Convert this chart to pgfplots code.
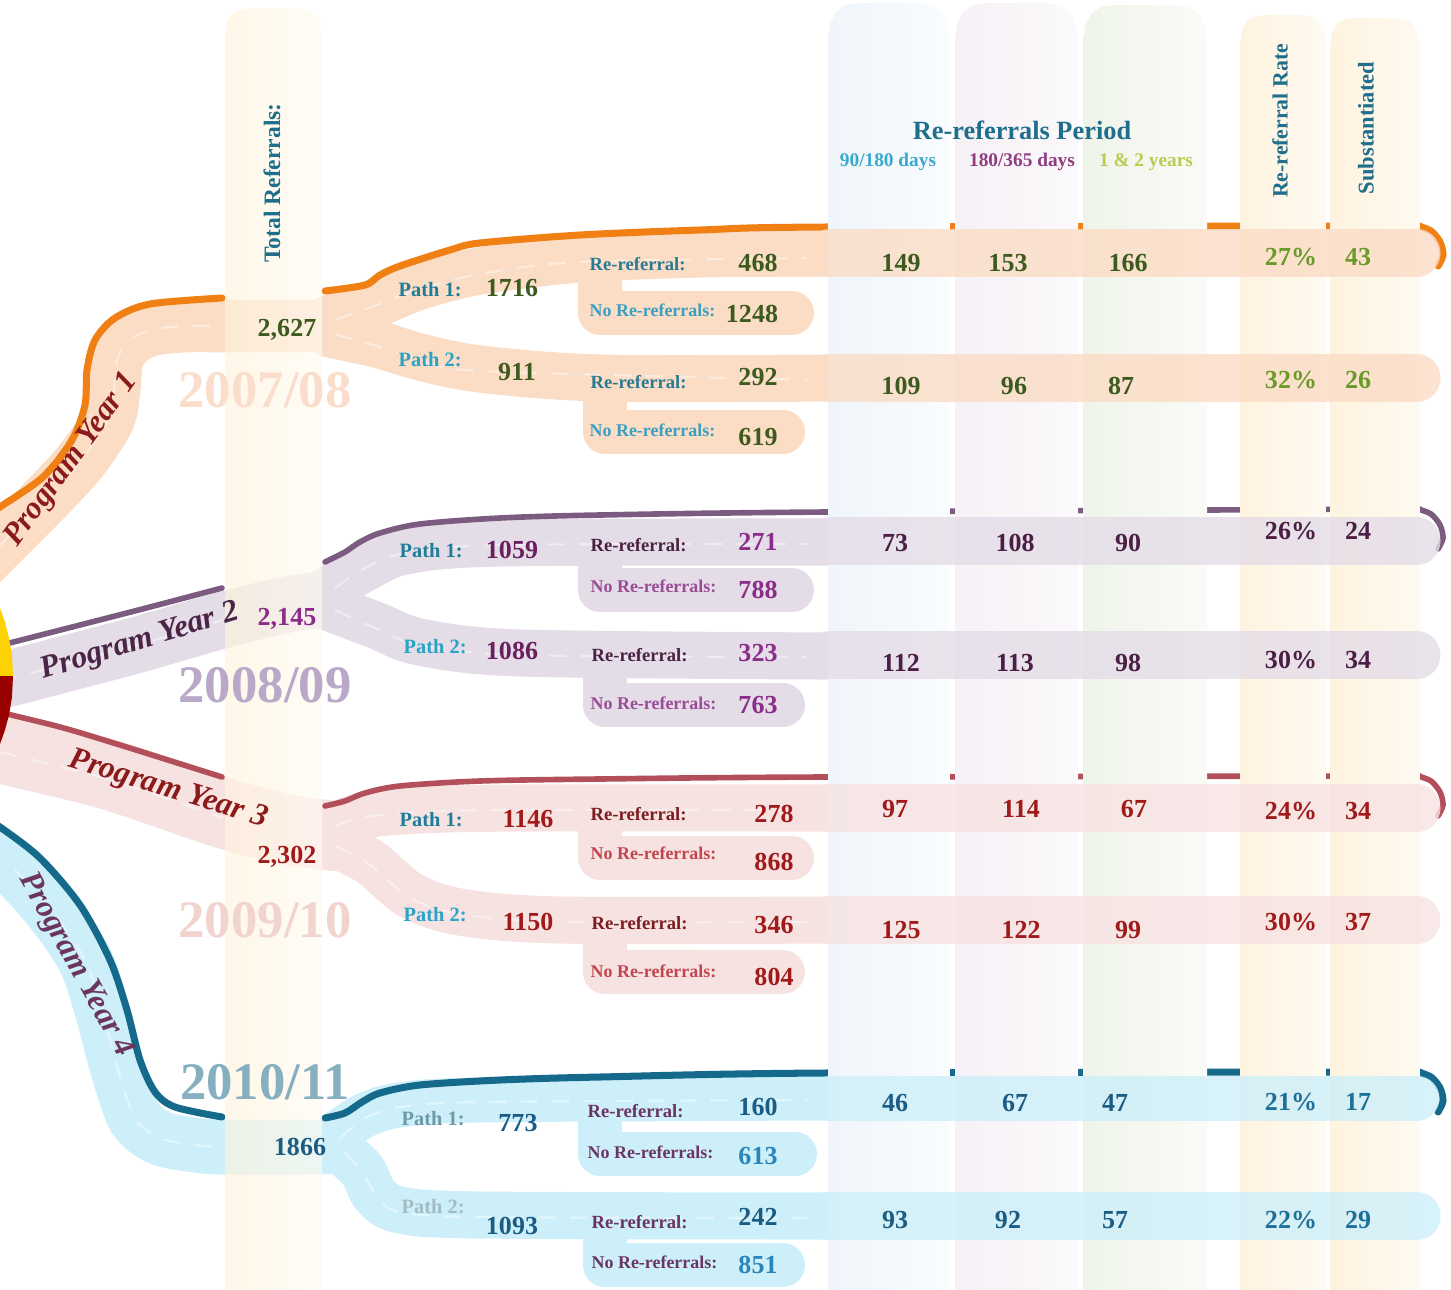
\documentclass[border=0pt]{standalone}
\usepackage{pgfplots}
\pgfplotsset{compat=1.18}
\usepackage{fontspec}
\setmainfont{Liberation Serif}

% year colours: edge line, band, values
\definecolor{oEdge}{HTML}{F07F14}
\definecolor{oBand}{HTML}{FBDCC5}
\definecolor{pEdge}{HTML}{7B5B7F}
\definecolor{pBand}{HTML}{E4DCE7}
\definecolor{rEdge}{HTML}{B24F5A}
\definecolor{rBand}{HTML}{F7E2E2}
\definecolor{bEdge}{HTML}{15698A}
\definecolor{bBand}{HTML}{CDEFF9}
\definecolor{hdr}{HTML}{1F6E8C}
\definecolor{c90}{HTML}{3BA9CC}
\definecolor{c180}{HTML}{8E3E80}
\definecolor{c12}{HTML}{B8CC50}
\definecolor{v1}{HTML}{3E5B1F}
\definecolor{g1}{HTML}{6A9A2A}
\definecolor{v2a}{HTML}{6A1F5E}
\definecolor{v2b}{HTML}{8C2D8C}
\definecolor{v2c}{HTML}{4B1F45}
\definecolor{v3}{HTML}{A11A1A}
\definecolor{v4}{HTML}{1B5C85}
\definecolor{v4b}{HTML}{2A86BA}
\definecolor{v4c}{HTML}{1E6F9A}
\definecolor{pathA}{HTML}{1F7D99}
\definecolor{pathB}{HTML}{2AA3C6}
\definecolor{rr1}{HTML}{2A7A92}
\definecolor{nr1}{HTML}{3AA0C2}
\definecolor{rr2}{HTML}{4A2344}
\definecolor{nr2}{HTML}{9A4C96}
\definecolor{rr3}{HTML}{7C1E20}
\definecolor{nr3}{HTML}{C2454E}
\definecolor{rr4}{HTML}{6B3563}
\definecolor{pathC}{HTML}{6C9AA6}
\definecolor{pathD}{HTML}{A3BCC2}
\definecolor{py1}{HTML}{8B1A1A}
\definecolor{py2}{HTML}{4B2547}
\definecolor{py4}{HTML}{6B3560}
\definecolor{yr1}{HTML}{FADDCB}
\definecolor{yr2}{HTML}{B9A8C8}
\definecolor{yr3}{HTML}{F2D4CF}
\definecolor{yr4}{HTML}{86AFC0}
% column tints
\definecolor{colA1}{HTML}{EFF5FA}
\definecolor{colA2}{HTML}{FAFCFE}
\definecolor{colB1}{HTML}{F6F1F6}
\definecolor{colB2}{HTML}{FBF9FB}
\definecolor{colC1}{HTML}{EFF4EA}
\definecolor{colC2}{HTML}{FAFBF7}
\definecolor{colD1}{HTML}{FEF3DF}
\definecolor{colD2}{HTML}{FEFAF1}
\definecolor{colT1}{HTML}{FFF4DC}
\definecolor{colT2}{HTML}{FFFBF2}

\pgfplotsset{
  band/.style={no marks, smooth, line cap=round, line join=round, draw=#1},
  road/.style={no marks, smooth, draw=white, line width=0.6pt, dash pattern=on 5pt off 4pt, draw opacity=0.45},
  edge/.style={no marks, smooth, draw=#1, line cap=round},
  branch/.style={no marks, sharp plot, draw=#1, line width=12.5pt, line cap=round, line join=round},
  val/.style={only marks, mark=*, mark size=0pt,
    scatter/use mapped color={draw=none, fill=none},
    mark options={draw=none, fill=none},
    point meta=explicit symbolic, nodes near coords={\pgfplotspointmeta},
    nodes near coords align={center},
    every node near coord/.append style={text=#1, inner sep=0pt, font=\bfseries\fontsize{7.4}{8}\selectfont}},
  pct/.style={val=#1, nodes near coords={\pgfplotspointmeta\%}},
}
\newcommand{\lab}[5]{\node[anchor=#1, text=#2, inner sep=0pt, font=\bfseries\fontsize{#3}{#3}\selectfont] at (axis cs:#4) {#5};}

\begin{document}
\begin{tikzpicture}
\begin{axis}[
  width=14.51cm, height=12.9cm, scale only axis,
  xmin=0, xmax=1451, ymin=0, ymax=1290, y dir=reverse,
  hide axis, clip bounding box=upper bound,
]
\path (rel axis cs:0,0) rectangle (rel axis cs:1,1);

% ---------- Year 1 ----------
\addplot[band=oBand, line width=15pt] coordinates {(-40,585)(0,545)(40,505)(80,462)(108,420)(114,390)(117,360)(128,342)(150,330)(185,326)(225,326)(335,326)};
\addplot[band=oBand, line width=13.4pt] coordinates {(330,318)(380,302)(420,286)(480,271)(580,259)(700,254)(830,253)};
\addplot[band=oBand, line width=13.4pt] coordinates {(330,334)(380,345)(420,357)(480,369)(600,378)(830,378)};
\addplot[branch=oBand] coordinates {(600,272)(600,313)(792,313)};
\addplot[branch=oBand] coordinates {(605,385)(605,432)(783,432)};
\addplot[road] coordinates {(0,545)(40,505)(80,462)(108,420)(114,390)(117,360)(128,342)(150,330)(185,326)(225,326)};
\addplot[road] coordinates {(335,320)(380,304)(420,289)(480,274)(580,262)(820,258)};
\addplot[road] coordinates {(335,334)(380,347)(420,359)(480,371)(820,380)};
\addplot[edge=oEdge, line width=2pt] coordinates {(-20,520)(0,507)(43,477)(72,440)(85,405)(87,370)(95,340)(115,318)(150,304)(222,298)};
\addplot[edge=oEdge, line width=2pt] coordinates {(325,291)(365,285)(380,275)(400,266)(450,250)(480,243)(580,235)(700,230)(827,227)(1420,226)};
\addplot[edge=oEdge, line width=2pt] coordinates {(1418,226)(1431,231)(1440,242)(1443,255)(1438,266)};

% ---------- Year 2 ----------
\addplot[band=pBand, line width=16pt] coordinates {(-30,690)(0,681)(133,646)(223,620)(290,604)(335,598)};
\addplot[band=pBand, line width=13.4pt] coordinates {(325,592)(365,568)(405,551)(500,543)(830,542)};
\addplot[band=pBand, line width=13.4pt] coordinates {(325,606)(375,625)(420,642)(520,653)(830,656)};
\addplot[branch=pBand] coordinates {(600,548)(600,590)(792,590)};
\addplot[branch=pBand] coordinates {(605,660)(605,705)(783,705)};
\addplot[road] coordinates {(0,681)(133,646)(223,620)};
\addplot[road] coordinates {(335,588)(365,568)(405,553)(500,545)(820,544)};
\addplot[road] coordinates {(335,610)(375,628)(420,645)(520,655)(820,657)};
\addplot[edge=pEdge, line width=1.6pt] coordinates {(-10,648)(80,625)(150,607)(222,588)};
\addplot[edge=pEdge, line width=1.6pt] coordinates {(325,562)(345,552)(360,542)(380,533)(420,524)(500,518)(600,515)(827,512)(1420,509)};
\addplot[edge=pEdge, line width=1.6pt] coordinates {(1418,509)(1431,514)(1440,525)(1443,538)(1438,549)};

% ---------- Year 3 ----------
\addplot[band=rBand, line width=20pt] coordinates {(-30,740)(0,748)(110,775)(223,813)(290,830)(335,836)};
\addplot[band=rBand, line width=13.4pt] coordinates {(330,828)(365,815)(420,810)(520,808)(830,808)};
\addplot[band=rBand, line width=13.4pt] coordinates {(330,842)(370,862)(410,895)(460,912)(560,920)(830,920)};
\addplot[branch=rBand] coordinates {(600,815)(600,858)(792,858)};
\addplot[branch=rBand] coordinates {(605,925)(605,972)(783,972)};
\addplot[road] coordinates {(0,752)(110,780)(223,818)};
\addplot[road] coordinates {(335,826)(365,817)(420,812)(520,810)(820,810)};
\addplot[road] coordinates {(335,846)(370,865)(410,898)(460,914)(560,922)(820,922)};
\addplot[edge=rEdge, line width=1.6pt] coordinates {(-10,710)(60,727)(120,745)(222,777)};
\addplot[edge=rEdge, line width=1.6pt] coordinates {(325,806)(345,801)(365,793)(400,786)(480,781)(600,779)(827,777)(1420,776)};
\addplot[edge=rEdge, line width=1.6pt] coordinates {(1418,776)(1431,781)(1440,792)(1443,805)(1438,816)};

% ---------- Year 4 ----------
\addplot[band=bBand, line width=15.6pt] coordinates {(-25,840)(15,870)(55,915)(85,960)(102,1010)(118,1070)(135,1118)(160,1138)(195,1145)(225,1147)(335,1147)};
\addplot[band=bBand, line width=12.8pt] coordinates {(335,1135)(365,1115)(400,1105)(480,1100)(830,1098)};
\addplot[band=bBand, line width=13.4pt] coordinates {(340,1150)(362,1170)(375,1195)(400,1210)(480,1215)(830,1216)};
\addplot[branch=bBand] coordinates {(600,1105)(600,1154)(795,1154)};
\addplot[branch=bBand] coordinates {(605,1222)(605,1265)(783,1265)};
\addplot[road] coordinates {(15,870)(55,915)(85,960)(102,1010)(118,1070)(135,1118)(160,1138)(195,1145)(225,1147)};
\addplot[road] coordinates {(340,1138)(365,1118)(400,1107)(480,1102)(820,1100)};
\addplot[road] coordinates {(345,1153)(362,1172)(378,1198)(400,1212)(480,1217)(820,1218)};
\addplot[edge=bEdge, line width=2pt] coordinates {(-20,815)(0,827)(40,858)(80,905)(110,960)(127,1010)(140,1060)(155,1092)(175,1107)(222,1117)};
\addplot[edge=bEdge, line width=2pt] coordinates {(325,1118)(345,1113)(362,1102)(380,1093)(420,1085)(500,1080)(600,1077)(827,1073)(1420,1072)};
\addplot[edge=bEdge, line width=2pt] coordinates {(1418,1072)(1431,1077)(1440,1088)(1443,1101)(1438,1112)};

% pie at the left edge
\addplot[fill=yellow!70!orange, draw=none] coordinates {(0,608)(5,622)(9,638)(12,655)(13,676)(0,676)} --cycle;
\addplot[fill=red!60!black, draw=none] coordinates {(0,676)(13,676)(12,697)(9,715)(5,730)(0,744)} --cycle;

% ---------- columns ----------
\addplot[draw=none, left color=colA1, right color=colA2] coordinates {(828,1300)(828,40)(830,24)(836,12)(846,5)(860,3)(918,3)(932,5)(942,12)(948,24)(950,40)(950,1300)} --cycle;
\addplot[draw=none, left color=colB1, right color=colB2] coordinates {(955,1300)(955,40)(957,24)(963,12)(973,5)(987,3)(1046,3)(1060,5)(1070,12)(1076,24)(1078,40)(1078,1300)} --cycle;
\addplot[draw=none, left color=colC1, right color=colC2] coordinates {(1083,1300)(1083,42)(1085,26)(1091,14)(1101,7)(1115,5)(1175,5)(1189,7)(1199,14)(1205,26)(1207,42)(1207,1300)} --cycle;
\addplot[draw=none, left color=colD1, right color=colD2] coordinates {(1240,1300)(1240,45)(1242,30)(1247,21)(1255,16)(1266,15)(1300,15)(1311,16)(1319,21)(1324,30)(1326,45)(1326,1300)} --cycle;
\addplot[draw=none, left color=colD1, right color=colD2] coordinates {(1330,1300)(1330,48)(1332,33)(1337,24)(1345,19)(1356,18)(1394,18)(1405,19)(1413,24)(1418,33)(1420,48)(1420,1300)} --cycle;
\addplot[draw=none, fill opacity=0.65, left color=colT1, right color=colT2] coordinates {(225,1300)(225,35)(227,22)(233,13)(243,9)(255,8)(292,8)(304,9)(314,13)(320,22)(322,35)(322,1300)} --cycle;

% ---------- row bands across the period columns ----------
\addplot[band=oBand, line width=13.4pt, draw opacity=0.8] coordinates {(830,253)(1417,253)};
\addplot[band=oBand, line width=13.4pt, draw opacity=0.8] coordinates {(830,378)(1417,378)};
\addplot[band=pBand, line width=13.4pt, draw opacity=0.8] coordinates {(830,541)(1417,541)};
\addplot[band=pBand, line width=13.4pt, draw opacity=0.8] coordinates {(830,655)(1417,655)};
\addplot[band=rBand, line width=13.4pt, draw opacity=0.8] coordinates {(830,808)(1417,808)};
\addplot[band=rBand, line width=13.4pt, draw opacity=0.8] coordinates {(830,920)(1417,920)};
\addplot[band=bBand, line width=12.8pt, draw opacity=0.8] coordinates {(830,1098)(1417,1098)};
\addplot[band=bBand, line width=13.4pt, draw opacity=0.8] coordinates {(830,1216)(1417,1216)};

% ---------- headers ----------
\node[rotate=90, text=hdr, font=\bfseries\fontsize{6.7}{7}\selectfont] at (axis cs:272,183) {Total Referrals:};
\node[text=hdr, font=\bfseries\fontsize{7.5}{8}\selectfont] at (axis cs:1022,130) {Re-referrals Period};
\node[text=c90, font=\bfseries\fontsize{5.5}{6}\selectfont] at (axis cs:888,162) {90/180 days};
\node[text=c180, font=\bfseries\fontsize{5.5}{6}\selectfont] at (axis cs:1022,162) {180/365 days};
\node[text=c12, font=\bfseries\fontsize{5.5}{6}\selectfont] at (axis cs:1146,162) {1 \& 2 years};
\node[rotate=90, text=hdr, font=\bfseries\fontsize{6.2}{7}\selectfont] at (axis cs:1280,121) {Re-referral Rate};
\node[rotate=90, text=hdr, font=\bfseries\fontsize{6.4}{7}\selectfont] at (axis cs:1366,128) {Substantiated};

% ---------- years ----------
\node[text=yr1, font=\bfseries\fontsize{15}{16}\selectfont] at (axis cs:265,390) {2007/08};
\node[text=yr2, font=\bfseries\fontsize{15}{16}\selectfont] at (axis cs:265,685) {2008/09};
\node[text=yr3, font=\bfseries\fontsize{15}{16}\selectfont] at (axis cs:265,920) {2009/10};
\node[text=yr4, font=\bfseries\fontsize{15}{16}\selectfont] at (axis cs:265,1082) {2010/11};
\node[rotate=54, text=py1, font=\bfseries\itshape\fontsize{9}{10}\selectfont] at (axis cs:72,460) {Program Year 1};
\node[rotate=17, text=py2, font=\bfseries\itshape\fontsize{9}{10}\selectfont] at (axis cs:140,642) {Program Year 2};
\node[rotate=-17, text=py1, font=\bfseries\itshape\fontsize{9}{10}\selectfont] at (axis cs:168,790) {Program Year 3};
\node[rotate=-61, text=py4, font=\bfseries\itshape\fontsize{9}{10}\selectfont] at (axis cs:75,965) {Program Year 4};

% ---------- labels ----------
\lab{west}{pathA}{5.8}{398,290}{Path 1:}
\lab{west}{pathB}{5.8}{398,360}{Path 2:}
\lab{west}{rr1}{5.3}{589,264}{Re-referral:}
\lab{west}{nr1}{5.1}{589,310}{No Re-referrals:}
\lab{west}{rr1}{5.3}{590,382}{Re-referral:}
\lab{west}{nr1}{5.1}{589,430}{No Re-referrals:}
\lab{west}{pathA}{5.8}{399,551}{Path 1:}
\lab{west}{pathB}{5.8}{403,647}{Path 2:}
\lab{west}{rr2}{5.3}{590,545}{Re-referral:}
\lab{west}{nr2}{5.1}{590,586}{No Re-referrals:}
\lab{west}{rr2}{5.3}{591,655}{Re-referral:}
\lab{west}{nr2}{5.1}{590,703}{No Re-referrals:}
\lab{west}{pathA}{5.8}{399,820}{Path 1:}
\lab{west}{pathB}{5.8}{403,915}{Path 2:}
\lab{west}{rr3}{5.3}{590,814}{Re-referral:}
\lab{west}{nr3}{5.1}{590,853}{No Re-referrals:}
\lab{west}{rr3}{5.3}{591,923}{Re-referral:}
\lab{west}{nr3}{5.1}{590,971}{No Re-referrals:}
\lab{west}{pathC}{5.8}{401,1119}{Path 1:}
\lab{west}{pathD}{5.8}{401,1207}{Path 2:}
\lab{west}{rr4}{5.3}{587,1111}{Re-referral:}
\lab{west}{rr4}{5.1}{587,1152}{No Re-referrals:}
\lab{west}{rr4}{5.3}{591,1222}{Re-referral:}
\lab{west}{rr4}{5.1}{591,1262}{No Re-referrals:}

% ---------- values ----------
\addplot[val=v1] table[meta=v] {
x y v
287 330 2,627
512 288 1716
517 372 911
758 263 468
752 314 1248
758 377 292
758 437 619
901 263 149
1008 263 153
1128 263 166
901 386 109
1014 386 96
1121 386 87
};
\addplot[pct=g1] table[meta=v] {
x y v
1291 257 27
1291 380 32
};
\addplot[val=g1] table[meta=v] {
x y v
1358 257 43
1358 380 26
};

\addplot[val=v2a] table[meta=v] {
x y v
512 550 1059
512 651 1086
};
\addplot[val=v2b] table[meta=v] {
x y v
287 619 2,145
758 542 271
758 590 788
758 653 323
758 705 763
};
\addplot[val=v2c] table[meta=v] {
x y v
895 543 73
1015 543 108
1128 543 90
1358 531 24
901 663 112
1015 663 113
1128 663 98
1358 660 34
};
\addplot[pct=v2c] table[meta=v] {
x y v
1291 531 26
1291 660 30
};

\addplot[val=v3] table[meta=v] {
x y v
287 857 2,302
528 819 1146
528 922 1150
774 814 278
774 862 868
774 925 346
774 977 804
895 809 97
1021 809 114
1134 809 67
1358 811 34
901 930 125
1021 930 122
1128 930 99
1358 922 37
};
\addplot[pct=v3] table[meta=v] {
x y v
1291 811 24
1291 922 30
};

\addplot[val=v4] table[meta=v] {
x y v
300 1147 1866
518 1123 773
512 1226 1093
758 1107 160
758 1217 242
895 1103 46
1015 1103 67
1115 1103 47
895 1220 93
1008 1220 92
1115 1220 57
};
\addplot[val=v4b] table[meta=v] {
x y v
758 1156 613
758 1265 851
};
\addplot[pct=v4c] table[meta=v] {
x y v
1291 1102 21
1291 1220 22
};
\addplot[val=v4c] table[meta=v] {
x y v
1358 1102 17
1358 1220 29
};
\end{axis}
\end{tikzpicture}
\end{document}
